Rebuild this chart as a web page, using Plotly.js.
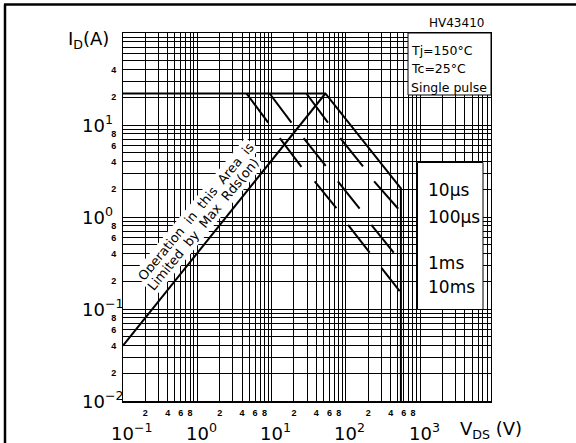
<!DOCTYPE html>
<html>
<head>
<meta charset="utf-8">
<script src="https://cdn.plot.ly/plotly-3.0.1.min.js"></script>
<style>
  html, body { margin: 0; padding: 0; background: #fff; }
  #chart { width: 576px; height: 443px; }
</style>
</head>
<body>
<div id="chart"></div>
<script>
// ---------- data (V in volts, I in amperes) ----------
// Rds(on) limit line
const limitV = [0.1, 53];
const limitI = [0.04, 22];
// 10 µs boundary (max current, power limit, max voltage)
const p10usV = [0.1, 53, 550, 550];
const p10usI = [22, 22, 2.05, 0.01];
// 100 µs line (dashed segments)
const p100usV = [29.4, 57.4, null, 84, 170, null, 240, 506];
const p100usI = [22, 10.6, null, 7.2, 3.54, null, 2.44, 1.23];
// 1 ms line
const p1msV = [9.4, 18.5, null, 27, 53.5, null, 78, 153, null, 220, 440];
const p1msI = [22, 10.6, null, 7.2, 3.6, null, 2.44, 1.23, null, 0.82, 0.41];
// 10 ms line
const p10msV = [4.6, 9.0, null, 12.9, 25.2, null, 38, 74.5, null, 107, 209, null, 301, 530];
const p10msI = [22, 10.6, null, 7.2, 3.5, null, 2.44, 1.25, null, 0.82, 0.41, null, 0.28, 0.156];

// tick labels
const xMinorTickVals = [0.2, 0.4, 0.6, 0.8, 2, 4, 6, 8, 20, 40, 60, 80, 200, 400, 600, 800];
const xMinorTickText = ['2','4','6','8','2','4','6','8','2','4','6','8','2','4','6','8'];
const yMinorTickVals = [0.02, 0.04, 0.06, 0.08, 0.2, 0.4, 0.6, 0.8, 2, 4, 6, 8, 20, 40];
const yMinorTickText = ['2','4','6','8','2','4','6','8','2','4','6','8','2','4'];
const xMajorExp = [-1, 0, 1, 2, 3];
const xMajorText = ['10<sup>−1</sup>', '10<sup>0</sup>', '10<sup>1</sup>', '10<sup>2</sup>', '10<sup>3</sup>'];
const yMajorExp = [1, 0, -1, -2];
const yMajorText = ['10<sup>1</sup>', '10<sup>0</sup>', '10<sup>−1</sup>', '10<sup>−2</sup>'];
const pulseLabels = ['10µs', '100µs', '1ms', '10ms'];
const condLabels = ['Tj=150°C', 'Tc=25°C', 'Single pulse'];
const partNumber = 'HV43410';
const rdsText = ['Operation\u00a0\u00a0in\u00a0\u00a0this\u00a0\u00a0Area\u00a0\u00a0is',
                 'Limited\u00a0\u00a0by\u00a0\u00a0Max\u00a0\u00a0Rds(on)'];

// ---------- layout helpers ----------
const W = 576, H = 443;
const L = 123, R = 85, T = 33, B = 42;
const PW = W - L - R, PH = H - T - B;
const px = v => (v - L) / PW;          // pixel x -> paper
const py = v => (H - B - v) / PH;      // pixel y -> paper

function gridVals(lo, hi) {            // 1..9 x 10^k grid positions
  const out = [];
  for (let e = lo; e <= hi; e++) for (let d = 1; d <= 9; d++) out.push(d * Math.pow(10, e));
  return out;
}

const FONT = 'DejaVu Sans, Arial, sans-serif';
const line = {color: '#000', width: 2};
const mk = (x, y) => ({x, y, type: 'scatter', mode: 'lines', line, hoverinfo: 'skip', connectgaps: false});

const traces = [
  mk(limitV, limitI),
  mk(p10usV, p10usI),
  mk(p100usV, p100usI),
  mk(p1msV, p1msI),
  mk(p10msV, p10msI)
];

const annotations = [];
xMajorExp.forEach((e, i) => annotations.push({
  x: e, xref: 'x', y: py(432), yref: 'paper', text: xMajorText[i], showarrow: false,
  xanchor: 'center', yanchor: 'middle', xshift: (e < 0 ? 8 : 4),
  font: {family: FONT, size: 18, color: '#000'}
}));
yMajorExp.forEach((e, i) => annotations.push({
  x: px(80), xref: 'paper', y: e, yref: 'y', text: yMajorText[i], showarrow: false,
  xanchor: 'left', yanchor: 'middle', yshift: 1,
  font: {family: FONT, size: 18, color: '#000'}
}));
annotations.push({
  x: px(66), xref: 'paper', y: py(40), yref: 'paper', text: 'I<sub>D</sub>(A)', showarrow: false,
  xanchor: 'left', yanchor: 'middle', font: {family: FONT, size: 18, color: '#000'}
});
annotations.push({
  x: px(458), xref: 'paper', y: py(430), yref: 'paper', text: 'V<sub>DS</sub> (V)', showarrow: false,
  xanchor: 'left', yanchor: 'middle', font: {family: FONT, size: 18, color: '#000'}
});
annotations.push({
  x: px(456), xref: 'paper', y: py(23), yref: 'paper', text: partNumber, showarrow: false,
  xanchor: 'center', yanchor: 'middle', font: {family: FONT, size: 12, color: '#000'}
});
const condY = [50, 68.5, 87.5];
condLabels.forEach((t, i) => annotations.push({
  x: px(409), xref: 'paper', y: py(condY[i]), yref: 'paper', text: t, showarrow: false,
  xanchor: 'left', yanchor: 'middle', font: {family: FONT, size: 12.5, color: '#000'}
}));
const pulseY = [189.5, 217.5, 262.5, 286.5];
pulseLabels.forEach((t, i) => annotations.push({
  x: px(426), xref: 'paper', y: py(pulseY[i]), yref: 'paper', text: t, showarrow: false,
  xanchor: 'left', yanchor: 'middle', font: {family: FONT, size: 17, color: '#000'}
}));
const rdsPos = [[196, 211.5], [203, 224.5]];
rdsText.forEach((t, i) => annotations.push({
  x: px(rdsPos[i][0]), xref: 'paper', y: py(rdsPos[i][1]), yref: 'paper', text: t, showarrow: false,
  xanchor: 'center', yanchor: 'middle', textangle: -50.5, bgcolor: '#fff', borderpad: 1,
  font: {family: FONT, size: 13, color: '#000'}
}));

const shapes = [
  // outer frame (left and top)
  {type: 'line', xref: 'paper', yref: 'paper', x0: px(5), x1: px(5), y0: py(H + 5), y1: py(4.5), line: {color: '#000', width: 2.5}},
  {type: 'line', xref: 'paper', yref: 'paper', x0: px(4), x1: px(W + 5), y0: py(4.5), y1: py(4.5), line: {color: '#000', width: 2.5}},
  // condition box
  {type: 'rect', xref: 'paper', yref: 'paper', x0: px(408), x1: 1, y0: py(95), y1: 1, fillcolor: '#fff', line: {color: '#000', width: 1}, layer: 'above'},
  // pulse-label box
  {type: 'rect', xref: 'paper', yref: 'paper', x0: px(417.5), x1: px(483), y0: py(309.5), y1: py(162.5), fillcolor: '#fff', line: {color: '#000', width: 1}, layer: 'above'}
];

const layout = {
  width: W, height: H,
  margin: {l: L, r: R, t: T, b: B, pad: 0},
  paper_bgcolor: '#fff', plot_bgcolor: '#fff',
  showlegend: false, hovermode: false,
  font: {family: FONT, color: '#000'},
  xaxis: {
    type: 'log', range: [-1, 3.953], fixedrange: true, automargin: false,
    tickmode: 'array', tickvals: xMinorTickVals, ticktext: xMinorTickText,
    tickfont: {family: 'Liberation Sans, Arial, sans-serif', size: 9, weight: 'bold', color: '#000'},
    ticks: '', ticklabelstandoff: 3,
    showgrid: true, gridcolor: '#000', gridwidth: 1,
    minor: {tickmode: 'array', tickvals: gridVals(-1, 3), showgrid: true, gridcolor: '#000', gridwidth: 1, ticks: ''},
    showline: true, linecolor: '#000', linewidth: 1.5, mirror: true, zeroline: false
  },
  yaxis: {
    type: 'log', range: [-2, 2], fixedrange: true, automargin: false,
    tickmode: 'array', tickvals: yMinorTickVals, ticktext: yMinorTickText,
    tickfont: {family: 'Liberation Sans, Arial, sans-serif', size: 9, weight: 'bold', color: '#000'},
    ticks: '', ticklabelstandoff: 4,
    showgrid: true, gridcolor: '#000', gridwidth: 1,
    minor: {tickmode: 'array', tickvals: gridVals(-2, 1), showgrid: true, gridcolor: '#000', gridwidth: 1, ticks: ''},
    showline: true, linecolor: '#000', linewidth: 1, mirror: true, zeroline: false
  },
  annotations, shapes
};

Plotly.newPlot('chart', traces, layout, {staticPlot: true, displayModeBar: false});
</script>
</body>
</html>
